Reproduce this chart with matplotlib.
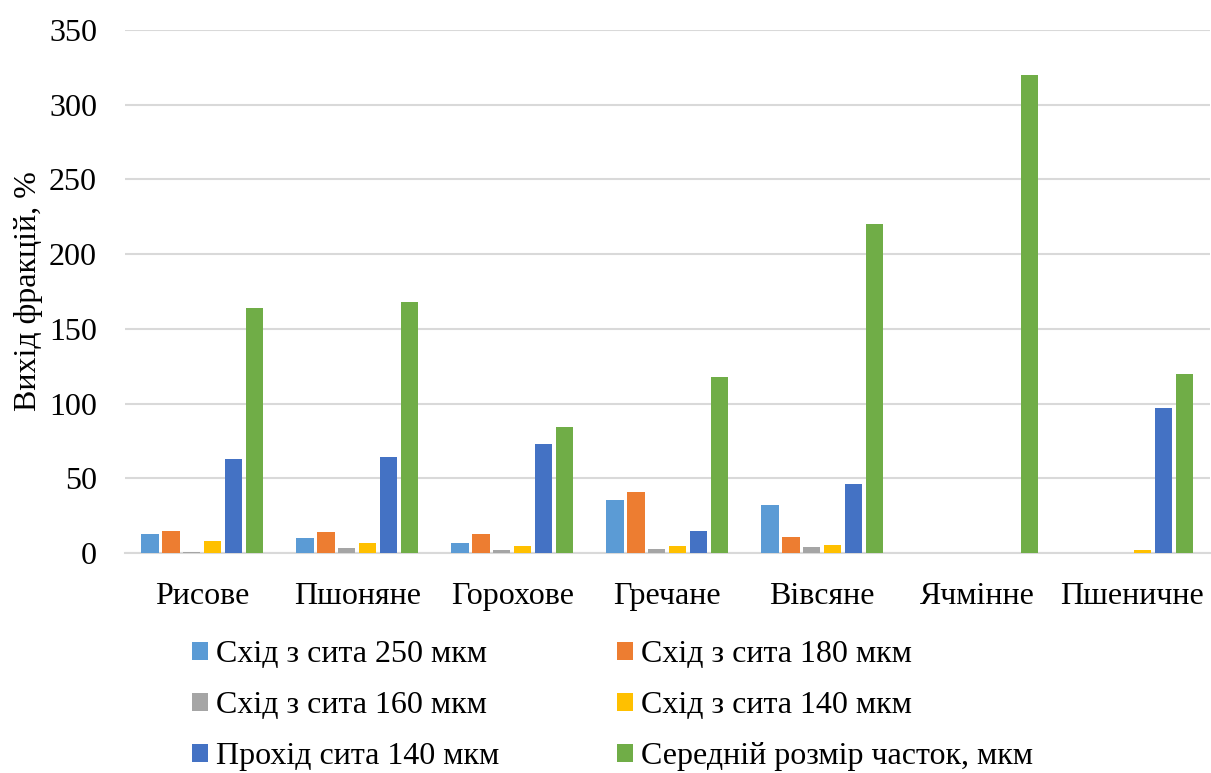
import numpy as np
import matplotlib.pyplot as plt

plt.rcParams['font.family'] = ['Liberation Serif', 'DejaVu Serif']

categories = ['Рисове', 'Пшоняне', 'Горохове', 'Гречане', 'Вівсяне', 'Ячмінне', 'Пшеничне']
series_names = ['Схід з сита 250 мкм', 'Схід з сита 180 мкм', 'Схід з сита 160 мкм',
                'Схід з сита 140 мкм', 'Прохід сита 140 мкм', 'Середній розмір часток, мкм']
s250 = [12.7, 10.3, 6.7, 35.5, 32, 0, 0]
s180 = [14.7, 14, 13, 40.6, 10.8, 0, 0]
s160 = [0.8, 3.1, 2.2, 3, 4, 0, 0]
s140 = [8.2, 6.5, 4.4, 4.4, 5.4, 0, 1.7]
pass140 = [62.7, 64.3, 73, 15, 46.4, 0, 97]
mean_size = [164, 168, 84, 118, 220, 320, 120]
colors = ['#5B9BD5', '#ED7D31', '#A5A5A5', '#FFC000', '#4472C4', '#70AD47']

data = [s250, s180, s160, s140, pass140, mean_size]

fig = plt.figure(figsize=(12.11, 7.73), dpi=100)
ax = fig.add_axes([0.103, 0.2846, 0.896, 0.6766])

x = np.arange(len(categories))
step = 0.135
handles = []
for i, (vals, name, c) in enumerate(zip(data, series_names, colors)):
    b = ax.bar(x + (i - 2.5) * step, vals, width=0.112, color=c,
               linewidth=0, label=name, zorder=3)
    handles.append(b)

ax.set_xlim(-0.5, len(categories) - 0.5)
ax.set_ylim(0, 350)
ax.set_yticks(range(0, 351, 50))
ax.set_xticks(x)
ax.set_xticklabels(categories)
ax.tick_params(axis='both', length=0, labelsize=23, colors='black')
ax.tick_params(axis='x', pad=21)
ax.tick_params(axis='y', pad=20)
ax.grid(axis='y', color='#D9D9D9', linewidth=1.5, zorder=0)
for s in ['top', 'right', 'left']:
    ax.spines[s].set_visible(False)
ax.spines['bottom'].set_color('#D9D9D9')
ax.spines['bottom'].set_linewidth(1.5)
ax.set_ylabel('Вихід фракцій, %', fontsize=23, labelpad=4)

order = [0, 2, 4, 1, 3, 5]
fig.legend([handles[i] for i in order], [series_names[i] for i in order],
           ncol=2, loc='upper left', bbox_to_anchor=(192 / 1211, 1 - 640 / 773),
           frameon=False, fontsize=23, handlelength=0.5, handleheight=0.5,
           handletextpad=0.25, columnspacing=3.68, labelspacing=0.69,
           borderpad=0, borderaxespad=0)

fig.savefig('out.png', dpi=100)
